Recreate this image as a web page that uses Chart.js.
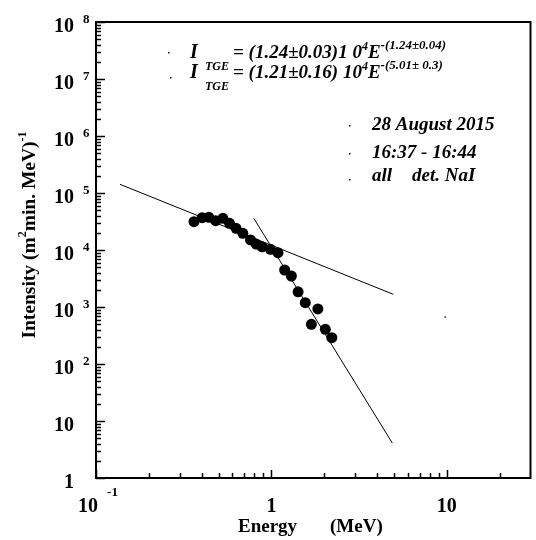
<!DOCTYPE html>
<html>
<head>
<meta charset="utf-8">
<script src="https://cdn.jsdelivr.net/npm/chart.js@4.4.1/dist/chart.umd.min.js"></script>
<style>
  html, body { margin: 0; padding: 0; background: #fff; }
  #wrap { width: 536px; height: 540px; position: relative; }
</style>
</head>
<body>
<div id="wrap"><canvas id="chart"></canvas></div>
<script>
const energy = [0.362, 0.403, 0.440, 0.481, 0.529, 0.577, 0.629, 0.687, 0.760, 0.818, 0.885, 0.987, 1.09, 1.19, 1.30, 1.42, 1.56, 1.69, 1.84, 2.03, 2.21];
const intensity = [31400, 36900, 37500, 32700, 36000, 29400, 24000, 19600, 15000, 12700, 11400, 10300, 8970, 4460, 3500, 1850, 1190, 497, 923, 406, 289];

// fitted power laws, end points
const fit1Energy = [0.137, 4.95];
const fit1Intensity = [142000, 1670];
const fit2Energy = [0.793, 4.89];
const fit2Intensity = [36000, 4.1];

// stray mark near 10 MeV
const strayEnergy = [9.8];
const strayIntensity = [665];

// axes
const xMajor = [0.1, 1, 10];
const xMinor = [0.2, 0.3, 0.4, 0.5, 0.6, 0.7, 0.8, 0.9, 2, 3, 4, 5, 6, 7, 8, 9, 20];
const xLabels = [["10", "-1"], ["1", ""], ["10", ""]];
const yMajor = [1, 10, 1e2, 1e3, 1e4, 1e5, 1e6, 1e7, 1e8];
const yLabels = [["1", ""], ["10", ""], ["10", "2"], ["10", "3"], ["10", "4"], ["10", "5"], ["10", "6"], ["10", "7"], ["10", "8"]];
const yMinor = [];
yMajor.slice(0, -1).forEach((d) => {
  for (let m = 2; m <= 9; m++) yMinor.push(d * m);
});

const toXY = (xs, ys) => xs.map((x, i) => ({ x: x, y: ys[i] }));

const SERIF = '"Liberation Serif", "Times New Roman", serif';

// draw a row of text pieces, each with its own size and vertical shift
function drawRuns(ctx, x, y, runs, style) {
  ctx.textAlign = "left";
  ctx.textBaseline = "alphabetic";
  runs.forEach((r) => {
    ctx.font = `${style} ${r.size}px ${SERIF}`;
    ctx.fillText(r.t, x, y + (r.dy || 0));
    x += ctx.measureText(r.t).width + (r.gap || 0);
  });
  return x;
}
function runsWidth(ctx, runs, style) {
  let w = 0;
  runs.forEach((r) => {
    ctx.font = `${style} ${r.size}px ${SERIF}`;
    w += ctx.measureText(r.t).width + (r.gap || 0);
  });
  return w;
}

const framePlugin = {
  id: "frame",
  afterDraw(chart) {
    const { ctx, chartArea: a, scales } = chart;
    const xs = scales.x, ys = scales.y;
    ctx.save();
    ctx.fillStyle = "#000";
    ctx.strokeStyle = "#000";

    // box
    ctx.lineWidth = 2;
    ctx.strokeRect(a.left, a.top, a.right - a.left, a.bottom - a.top);

    // ticks, pointing inward
    ctx.lineWidth = 1.5;
    ctx.beginPath();
    yMajor.forEach((v) => {
      const p = Math.round(ys.getPixelForValue(v)) + 0.5;
      ctx.moveTo(a.left, p); ctx.lineTo(a.left + 9, p);
    });
    yMinor.forEach((v) => {
      const p = Math.round(ys.getPixelForValue(v)) + 0.5;
      ctx.moveTo(a.left, p); ctx.lineTo(a.left + 5, p);
    });
    xMajor.forEach((v) => {
      const p = Math.round(xs.getPixelForValue(v)) + 0.5;
      ctx.moveTo(p, a.bottom); ctx.lineTo(p, a.bottom - 8);
    });
    xMinor.forEach((v) => {
      const p = Math.round(xs.getPixelForValue(v)) + 0.5;
      ctx.moveTo(p, a.bottom); ctx.lineTo(p, a.bottom - 5);
    });
    ctx.stroke();

    // y tick labels
    yMajor.forEach((v, i) => {
      const p = ys.getPixelForValue(v);
      const [base, exp] = yLabels[i];
      ctx.font = `bold 20px ${SERIF}`;
      ctx.textAlign = "right";
      ctx.textBaseline = "alphabetic";
      ctx.fillText(base, a.left - 22, p + 10);
      if (exp) {
        ctx.font = `bold 13px ${SERIF}`;
        ctx.textAlign = "left";
        ctx.fillText(exp, a.left - 13, p + 1);
      }
    });

    // x tick labels
    xMajor.forEach((v, i) => {
      const p = xs.getPixelForValue(v);
      const [base, exp] = xLabels[i];
      const runs = [{ t: base, size: 20, gap: exp ? 9 : 0 }];
      if (exp) runs.push({ t: exp, size: 13, dy: -16 });
      const w = runsWidth(ctx, runs, "bold");
      drawRuns(ctx, p - w / 2 + (exp ? 2 : 0), a.bottom + 34, runs, "bold");
    });

    // x title
    ctx.font = `bold 19px ${SERIF}`;
    ctx.textAlign = "left";
    ctx.fillText("Energy", 238, 532);
    ctx.fillText("(MeV)", 330, 532);

    // y title, rotated
    ctx.save();
    ctx.translate(35, 235);
    ctx.rotate(-Math.PI / 2);
    const yt = [
      { t: "Intensity (m", size: 19.5 },
      { t: "2", size: 12, dy: -9 },
      { t: "min. MeV)", size: 19.5 },
      { t: "-1", size: 12, dy: -9 },
    ];
    drawRuns(ctx, -runsWidth(ctx, yt, "bold") / 2, 0, yt, "bold");
    ctx.restore();

    // fit formulas
    const f = "bold italic";
    drawRuns(ctx, 190, 58, [{ t: "I", size: 20 }], f);
    drawRuns(ctx, 205, 70, [{ t: "TGE", size: 12 }], f);
    drawRuns(ctx, 233, 58, [
      { t: "= (1.24\u00b10.03)1 0", size: 19 },
      { t: "4", size: 12, dy: -8 },
      { t: "E", size: 19 },
      { t: "-(1.24\u00b10.04)", size: 13, dy: -9 },
    ], f);
    drawRuns(ctx, 190, 78, [{ t: "I", size: 20 }], f);
    drawRuns(ctx, 205, 90, [{ t: "TGE", size: 12 }], f);
    drawRuns(ctx, 233, 78, [
      { t: "= (1.21\u00b10.16) 10", size: 19 },
      { t: "4", size: 12, dy: -8 },
      { t: "E", size: 19 },
      { t: "-(5.01\u00b1 0.3)", size: 13, dy: -9 },
    ], f);

    // run info
    ctx.font = `${f} 19px ${SERIF}`;
    ctx.fillText("28 August 2015", 372, 130);
    ctx.fillText("16:37 - 16:44", 372, 158);
    ctx.fillText("all", 372, 181);
    ctx.fillText("det. NaI", 412, 181);

    // small bullet dots in front of the text lines
    [[168, 52], [170, 77], [349, 125], [349, 153], [349, 179]].forEach(([x, y]) => {
      ctx.fillRect(x, y, 1.5, 1.5);
    });
    ctx.restore();
  },
};

new Chart(document.getElementById("chart"), {
  type: "scatter",
  data: {
    datasets: [
      {
        label: "data",
        data: toXY(energy, intensity),
        backgroundColor: "#000",
        borderColor: "#000",
        borderWidth: 0,
        pointRadius: 5.5,
        order: 0,
      },
      {
        label: "fit 1",
        data: toXY(fit1Energy, fit1Intensity),
        showLine: true,
        borderColor: "#000",
        borderWidth: 1,
        pointRadius: 0,
        order: 1,
      },
      {
        label: "fit 2",
        data: toXY(fit2Energy, fit2Intensity),
        showLine: true,
        borderColor: "#000",
        borderWidth: 1,
        pointRadius: 0,
        order: 1,
      },
      {
        label: "stray",
        data: toXY(strayEnergy, strayIntensity),
        backgroundColor: "#555",
        borderWidth: 0,
        pointRadius: 1,
        order: 2,
      },
    ],
  },
  options: {
    responsive: true,
    maintainAspectRatio: false,
    animation: false,
    layout: { padding: { left: 96, right: 5, top: 22, bottom: 62 } },
    plugins: {
      legend: { display: false },
      tooltip: { enabled: false },
    },
    scales: {
      x: { type: "logarithmic", min: 0.1, max: 30, display: false },
      y: { type: "logarithmic", min: 1, max: 1e8, display: false },
    },
  },
  plugins: [framePlugin],
});
</script>
</body>
</html>
